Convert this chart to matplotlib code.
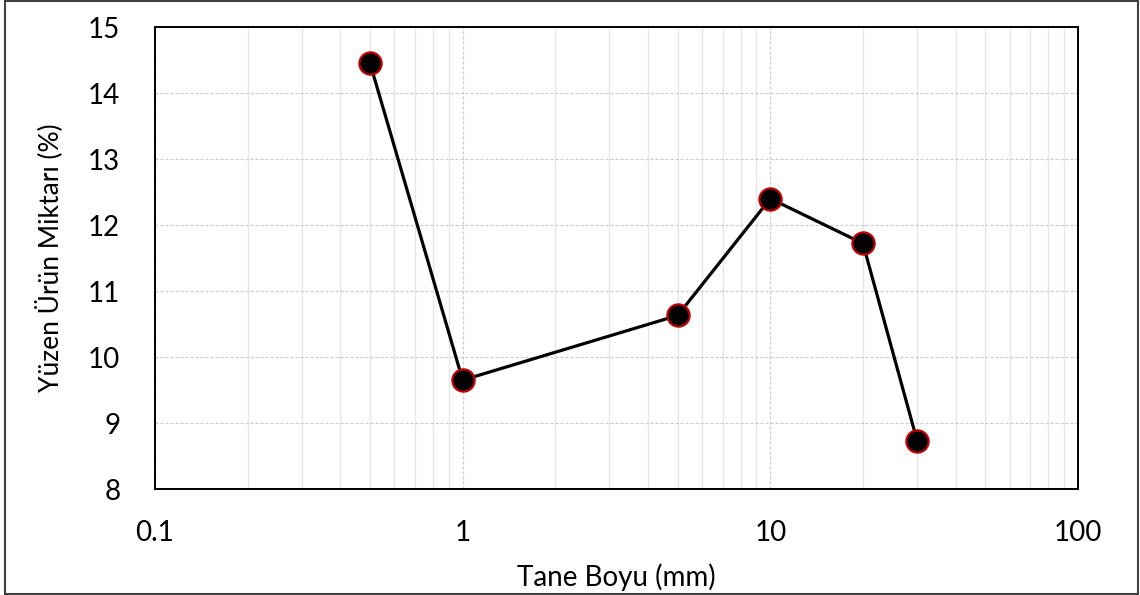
"""Yüzen ürün miktarı vs tane boyu, log x axis."""

import matplotlib

matplotlib.use("Agg")
import matplotlib.pyplot as plt  # noqa: E402
from matplotlib.patches import Rectangle  # noqa: E402
from matplotlib.ticker import FixedLocator, LogLocator, NullFormatter  # noqa: E402

tane_boyu = [0.5, 1, 5, 10, 20, 30]
yuzen_urun = [14.45, 9.65, 10.63, 12.40, 11.72, 8.73]
x_ticks = [0.1, 1, 10, 100]
x_tick_labels = ["0.1", "1", "10", "100"]
y_ticks = [8, 9, 10, 11, 12, 13, 14, 15]

plt.rcParams["font.family"] = ["Lato", "DejaVu Sans"]

W, H = 1140, 595
left, right, top, bottom = 155, 1078, 27, 489

fig = plt.figure(figsize=(W / 100, H / 100), dpi=100)
ax = fig.add_axes([left / W, 1 - bottom / H, (right - left) / W, (bottom - top) / H])

ax.plot(tane_boyu, yuzen_urun, color="black", linewidth=2.3, zorder=3)
ax.plot(tane_boyu, yuzen_urun, linestyle="none", marker="o", markersize=16,
        markerfacecolor="black", markeredgecolor="#c00000", markeredgewidth=1.6,
        zorder=4)

ax.set_xscale("log")
ax.set_xlim(0.1, 100)
ax.set_ylim(8, 15)
ax.xaxis.set_major_locator(FixedLocator(x_ticks))
ax.set_xticklabels(x_tick_labels)
ax.xaxis.set_minor_locator(LogLocator(base=10, subs=range(2, 10)))
ax.xaxis.set_minor_formatter(NullFormatter())
ax.set_yticks(y_ticks)

ax.grid(True, which="major", axis="both", color="#cccccc", linestyle=(0, (2.5, 1.5)), linewidth=0.9)
ax.grid(True, which="minor", axis="x", color="#e6e6e6", linestyle="-", linewidth=1.0)
ax.set_axisbelow(True)

ax.tick_params(axis="both", which="both", length=0, labelsize=20, colors="black")
ax.tick_params(axis="x", pad=22)
ax.tick_params(axis="y", pad=25)
for spine in ax.spines.values():
    spine.set_color("black")
    spine.set_linewidth(1.4)

ax.set_xlabel("Tane Boyu (mm)", fontsize=20, va="center")
ax.set_ylabel("Yüzen Ürün Miktarı (%)", fontsize=19, va="center")
ax.xaxis.set_label_coords(0.5, (bottom - 577) / (bottom - top))
ax.yaxis.set_label_coords((49 - left) / (right - left), 0.5)

fig.patches.append(Rectangle((0.004, 0.002), 0.994, 0.996, transform=fig.transFigure,
                             fill=False, edgecolor="#404040", linewidth=1.5))

fig.savefig("out.png", dpi=100)
